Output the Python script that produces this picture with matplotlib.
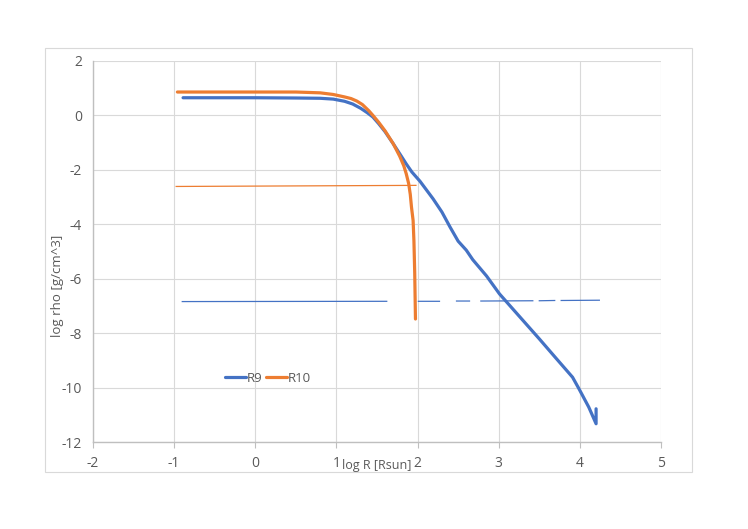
import matplotlib
matplotlib.use('Agg')
import numpy as np
import matplotlib.pyplot as plt
from matplotlib.patches import Rectangle

# R9 profile
r9_x = [-0.89, 0.0, 0.5, 0.8, 0.96, 1.1, 1.2, 1.3, 1.38, 1.45, 1.52, 1.6, 1.7, 1.8, 1.86, 1.93,
        2.03, 2.19, 2.3, 2.4, 2.5, 2.6, 2.68, 2.85, 3.01, 3.2, 3.5, 3.7, 3.91, 3.99, 4.11, 4.2, 4.2]
r9_y = [0.65, 0.65, 0.64, 0.63, 0.6, 0.52, 0.42, 0.26, 0.1, -0.06, -0.3, -0.6, -1.04, -1.5, -1.78,
        -2.08, -2.42, -3.06, -3.55, -4.1, -4.62, -4.95, -5.3, -5.9, -6.56, -7.2, -8.21, -8.9,
        -9.62, -10.05, -10.72, -11.33, -10.78]

# R10 profile
r10_x = [-0.96, 0.0, 0.5, 0.8, 0.96, 1.1, 1.18, 1.25, 1.32, 1.4, 1.45, 1.52, 1.6, 1.7, 1.78, 1.83,
         1.86, 1.89, 1.91, 1.925, 1.945, 1.955, 1.965, 1.974]
r10_y = [0.86, 0.86, 0.86, 0.83, 0.77, 0.68, 0.62, 0.53, 0.4, 0.17, 0.0, -0.25, -0.57, -1.04, -1.5,
         -1.85, -2.14, -2.5, -2.9, -3.37, -3.86, -4.6, -5.8, -7.48]

# stray thin lines
r10_thin_x = [-0.975, 1.98]
r10_thin_y = [-2.61, -2.57]
r9_thin_x = [-0.9, 1.62, np.nan, 2.01, 2.27, np.nan, 2.48, 2.64, np.nan, 2.78, 3.42,
             np.nan, 3.5, 3.69, np.nan, 3.77, 4.24]
r9_thin_y = [-6.84, -6.83, np.nan, -6.83, -6.83, np.nan, -6.82, -6.82, np.nan, -6.82, -6.81,
             np.nan, -6.81, -6.8, np.nan, -6.8, -6.79]

blue = '#4472C4'
orange = '#ED7D31'
grey = '#595959'

plt.rcParams['font.family'] = ['Open Sans', 'DejaVu Sans']
plt.rcParams['axes.unicode_minus'] = False

fig = plt.figure(figsize=(7.48, 5.29), dpi=100)
fig.patches.append(Rectangle((45 / 748, 57 / 529), 647 / 748, 424 / 529, transform=fig.transFigure,
                             fill=False, edgecolor='#D9D9D9', linewidth=0.8))
ax = fig.add_axes([93 / 748, 87 / 529, 568 / 748, 381 / 529])

ax.plot(r9_thin_x, r9_thin_y, color=blue, linewidth=0.9, label='_nolegend_')
ax.plot(r10_thin_x, r10_thin_y, color=orange, linewidth=0.9, label='_nolegend_')
ax.plot(r9_x, r9_y, color=blue, linewidth=2.3, label='R9', solid_capstyle='round')
ax.plot(r10_x, r10_y, color=orange, linewidth=2.3, label='R10', solid_capstyle='round')

ax.set_xlim(-2, 5)
ax.set_ylim(-12, 2)
ax.set_xticks(range(-2, 6))
ax.set_yticks(range(-12, 3, 2))
ax.grid(True, color='#D9D9D9', linewidth=0.8)
ax.set_axisbelow(True)
for s in ['top', 'right']:
    ax.spines[s].set_visible(False)
for s in ['bottom', 'left']:
    ax.spines[s].set_color('#BFBFBF')
    ax.spines[s].set_linewidth(1.0)
ax.tick_params(axis='x', length=4, color='#BFBFBF', labelcolor=grey, labelsize=10, pad=6)
ax.tick_params(axis='y', length=0, labelcolor=grey, labelsize=10, pad=8)

fig.text(377 / 748, 1 - 465 / 529, 'log R [Rsun]', color=grey, fontsize=9, ha='center', va='center')
fig.text(58 / 748, 1 - 286 / 529, 'log rho [g/cm^3]', color=grey, fontsize=9.5, ha='center', va='center',
         rotation=90)

ax.legend(loc='center', bbox_to_anchor=(268 / 748, 1 - 378 / 529), bbox_transform=fig.transFigure,
          ncol=2, frameon=False, fontsize=9.5, handlelength=1.6, handletextpad=0.1, columnspacing=0.2,
          labelcolor=grey)

fig.savefig('out.png', dpi=100)
